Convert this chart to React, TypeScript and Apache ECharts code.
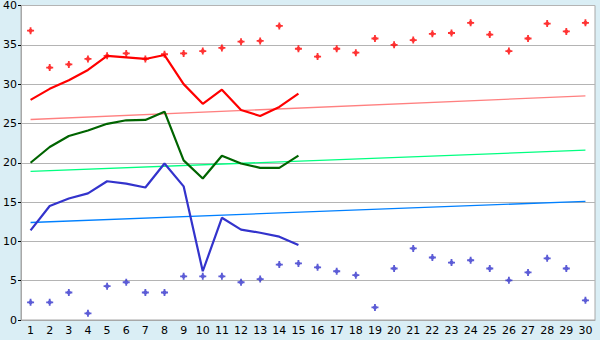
import React, { useEffect, useRef } from "react";
import * as echarts from "echarts";

const categories = Array.from({ length: 30 }, (_, i) => String(i + 1));

const redPoints = [36.8, 32.1, 32.5, 33.2, 33.6, 33.9, 33.2, 33.8, 33.9, 34.2, 34.6, 35.4, 35.5, 37.4, 34.5, 33.5, 34.5, 34.0, 35.8, 35.0, 35.6, 36.4, 36.5, 37.8, 36.3, 34.2, 35.8, 37.7, 36.7, 37.8];
const bluePoints = [2.25, 2.25, 3.5, 0.85, 4.3, 4.8, 3.5, 3.5, 5.55, 5.55, 5.55, 4.8, 5.2, 7.05, 7.2, 6.7, 6.2, 5.7, 1.6, 6.55, 9.1, 7.95, 7.3, 7.6, 6.55, 5.05, 6.05, 7.85, 6.55, 2.5];

const redLine = [28.0, 29.4, 30.5, 31.8, 33.6, 33.4, 33.2, 33.7, 30.0, 27.5, 29.3, 26.7, 25.95, 27.1, 28.8];
const greenLine = [20.0, 22.0, 23.4, 24.1, 24.95, 25.4, 25.45, 26.5, 20.3, 18.0, 20.9, 19.9, 19.35, 19.35, 20.9];
const blueLine = [11.4, 14.5, 15.45, 16.1, 17.65, 17.35, 16.85, 19.9, 17.0, 6.2, 13.0, 11.5, 11.1, 10.6, 9.55];

const redTrend = [25.5, 28.5];
const greenTrend = [18.9, 21.6];
const blueTrend = [12.4, 15.1];

const yTicks = [0, 5, 10, 15, 20, 25, 30, 35, 40];

const star = "path://M-0.9,-3.5 L0.9,-3.5 L0.9,-2 L2,-0.9 L3.5,-0.9 L3.5,0.9 L2,0.9 L0.9,2 L0.9,3.5 L-0.9,3.5 L-0.9,2 L-2,0.9 L-3.5,0.9 L-3.5,-0.9 L-2,-0.9 L-0.9,-2 Z";

function trend(v: number[], color: string) {
  return {
    type: "line",
    data: [
      [categories[0], v[0]],
      [categories[categories.length - 1], v[1]],
    ],
    symbol: "none",
    lineStyle: { color, width: 1.3 },
    silent: true,
    z: 1,
  };
}

function line(v: number[], color: string) {
  return {
    type: "line",
    data: v,
    symbol: "none",
    lineStyle: { color, width: 2.2 },
    z: 3,
  };
}

function points(v: number[], color: string) {
  return {
    type: "scatter",
    data: v,
    symbol: star,
    symbolSize: 7,
    itemStyle: { color },
    z: 4,
  };
}

export default function App() {
  const ref = useRef<HTMLDivElement>(null);
  useEffect(() => {
    if (!ref.current) return;
    const chart = echarts.init(ref.current, undefined, { renderer: "svg" });
    chart.setOption({
      animation: false,
      backgroundColor: "#DAEEF5",
      textStyle: { fontFamily: "DejaVu Sans" },
      grid: {
        left: 20,
        right: 5,
        top: 5,
        bottom: 20,
        show: true,
        backgroundColor: "#FFFFFF",
        borderColor: "#A8A8A8",
        borderWidth: 1,
      },
      xAxis: {
        type: "category",
        data: categories,
        boundaryGap: true,
        axisLine: { lineStyle: { color: "#A8A8A8", width: 1 } },
        axisTick: { alignWithLabel: true, length: 4, lineStyle: { color: "#000" } },
        axisLabel: { color: "#000", fontSize: 11, margin: 5, interval: 0 },
        splitLine: { show: false },
      },
      yAxis: {
        type: "value",
        min: yTicks[0],
        max: yTicks[yTicks.length - 1],
        interval: 5,
        axisLine: { show: true, lineStyle: { color: "#A8A8A8", width: 1 } },
        axisTick: { show: true, length: 3, lineStyle: { color: "#000" } },
        axisLabel: { color: "#000", fontSize: 11, margin: 4 },
        splitLine: { lineStyle: { color: "#B4B4B4", width: 1 } },
      },
      series: [
        trend(redTrend, "#FF8080"),
        trend(greenTrend, "#00FF80"),
        trend(blueTrend, "#0080FF"),
        line(redLine, "#FF0000"),
        line(greenLine, "#006400"),
        line(blueLine, "#3333CC"),
        points(redPoints, "#FF0000"),
        points(bluePoints, "#3333CC"),
      ],
    });
    return () => chart.dispose();
  }, []);
  return <div ref={ref} style={{ width: 600, height: 340, position: "fixed", left: 0, top: 0 }} />;
}
